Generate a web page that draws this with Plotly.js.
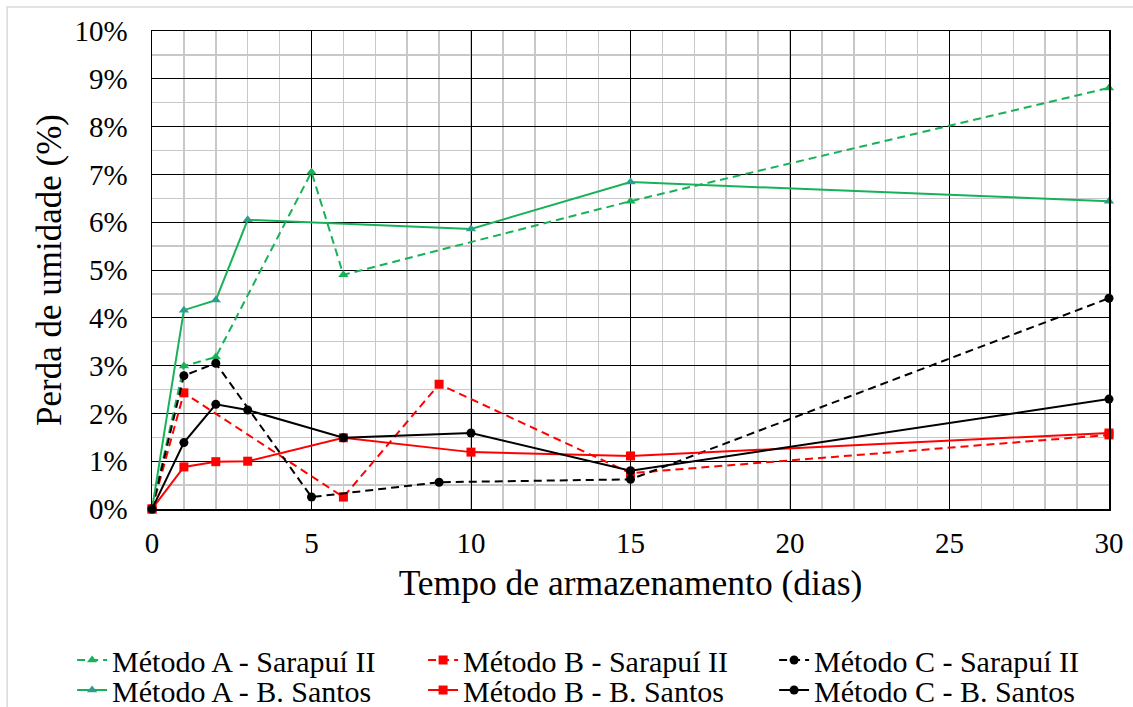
<!DOCTYPE html>
<html>
<head>
<meta charset="utf-8">
<script src="https://cdn.plot.ly/plotly-3.0.1.min.js"></script>
<style>html,body{margin:0;padding:0;background:#fff;overflow:hidden;}#chart{width:1133px;height:730px;}</style>
</head>
<body>
<div id="chart"></div>
<script>
// Tempo de armazenamento (dias) and Perda de umidade (%)
const xA_Sar = [0, 1, 2, 5, 6, 15, 30];
const yA_Sar = [0, 2.99, 3.18, 7.05, 4.9, 6.44, 8.81];
const xA_BS = [0, 1, 2, 3, 10, 15, 30];
const yA_BS = [0, 4.16, 4.37, 6.05, 5.86, 6.84, 6.44];
const xB_Sar = [0, 1, 6, 9, 15, 30];
const yB_Sar = [0, 2.43, 0.25, 2.61, 0.75, 1.55];
const xB_BS = [0, 1, 2, 3, 6, 10, 15, 30];
const yB_BS = [0, 0.88, 0.99, 1.0, 1.49, 1.19, 1.11, 1.59];
const xC_Sar = [0, 1, 2, 5, 9, 15, 30];
const yC_Sar = [0, 2.79, 3.05, 0.25, 0.56, 0.62, 4.41];
const xC_BS = [0, 1, 2, 3, 6, 10, 15, 30];
const yC_BS = [0, 1.39, 2.19, 2.07, 1.49, 1.59, 0.8, 2.3];
const names = ["Método A - Sarapuí II", "Método B - Sarapuí II", "Método C - Sarapuí II",
               "Método A - B. Santos", "Método B - B. Santos", "Método C - B. Santos"];
const xTicks = [0, 5, 10, 15, 20, 25, 30];

const green = '#17b257', teal = '#2b9e8e', red = '#ff0000', black = '#000000';
const dash = '8px,5px';
const traces = [
  {x: xA_Sar, y: yA_Sar, name: names[0], legend: 'legend', line: {color: green, width: 2, dash: dash}, marker: {symbol: 'triangle-up', size: 9, color: green}},
  {x: xB_Sar, y: yB_Sar, name: names[1], legend: 'legend', line: {color: red, width: 2, dash: dash}, marker: {symbol: 'square', size: 9, color: red}},
  {x: xC_Sar, y: yC_Sar, name: names[2], legend: 'legend', line: {color: black, width: 2, dash: dash}, marker: {symbol: 'circle', size: 9, color: black}},
  {x: xA_BS, y: yA_BS, name: names[3], legend: 'legend2', line: {color: green, width: 2}, marker: {symbol: 'triangle-up', size: 9, color: teal}},
  {x: xB_BS, y: yB_BS, name: names[4], legend: 'legend2', line: {color: red, width: 2}, marker: {symbol: 'square', size: 9, color: red}},
  {x: xC_BS, y: yC_BS, name: names[5], legend: 'legend2', line: {color: black, width: 2}, marker: {symbol: 'circle', size: 9, color: black}}
].map(t => Object.assign({type: 'scatter', mode: 'lines+markers', cliponaxis: false}, t));

const font = 'Liberation Serif';
const legendBase = {
  orientation: 'h', x: -0.0835, xanchor: 'left', yanchor: 'middle',
  entrywidth: 306, entrywidthmode: 'pixels', traceorder: 'normal',
  font: {size: 30, family: font, color: '#000'}, bgcolor: 'rgba(0,0,0,0)', itemwidth: 30
};
const layout = {
  width: 1133, height: 730,
  margin: {l: 152, r: 24, t: 31, b: 221},
  paper_bgcolor: '#fff', plot_bgcolor: '#fff',
  font: {family: font, color: '#000', size: 28},
  showlegend: true,
  xaxis: {
    range: [0, 30], tickvals: xTicks, ticktext: xTicks.map(String),
    showgrid: true, gridcolor: '#000', gridwidth: 1,
    minor: {dtick: 1, showgrid: true, gridcolor: '#c8c8c8', gridwidth: 1.5, tick0: 0},
    zeroline: false, showline: true, linecolor: '#000', linewidth: 1.5, mirror: true,
    ticks: '', tickfont: {size: 29, family: font, color: '#000'}, ticklabelstandoff: 8,
    title: {text: 'Tempo de armazenamento (dias)', font: {size: 35.5, family: font, color: '#000'}, standoff: 12}
  },
  yaxis: {
    range: [0, 10], dtick: 1, ticksuffix: '%',
    showgrid: true, gridcolor: '#000', gridwidth: 1,
    minor: {dtick: 0.5, showgrid: true, gridcolor: '#c8c8c8', gridwidth: 1.5, tick0: 0},
    zeroline: false, showline: true, linecolor: '#000', linewidth: 1.5, mirror: true,
    ticks: '', tickfont: {size: 29, family: font, color: '#000'}, ticklabelstandoff: 17,
    title: {text: 'Perda de umidade (%)', font: {size: 35, family: font, color: '#000'}, standoff: 2}
  },
  legend: Object.assign({}, legendBase, {y: -0.3159}),
  legend2: Object.assign({}, legendBase, {y: -0.3787}),
  shapes: [{type: 'rect', xref: 'paper', yref: 'paper', x0: -0.1514, x1: 1.2, y0: -0.6, y1: 1.0502,
            line: {color: '#d9d9d9', width: 1.5}, layer: 'below'}]
};
Plotly.newPlot('chart', traces, layout, {displayModeBar: false, staticPlot: true});
</script>
</body>
</html>
